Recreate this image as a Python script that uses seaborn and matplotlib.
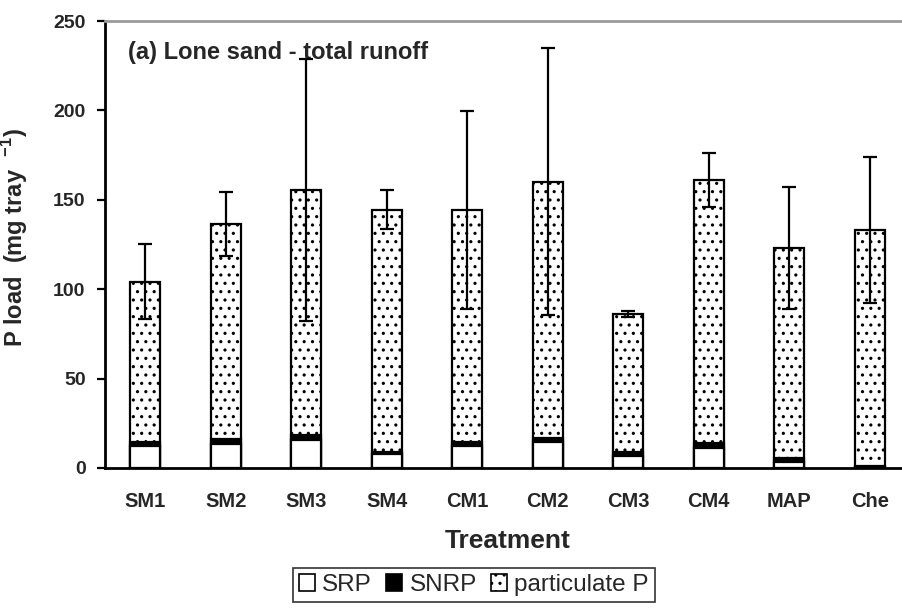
import numpy as np
import pandas as pd
import matplotlib
matplotlib.use("Agg")
import matplotlib.pyplot as plt
import seaborn as sns
from matplotlib.patches import Patch

# Phosphorus load per treatment (mg per tray), Lone sand, total runoff
treatments = ["SM1", "SM2", "SM3", "SM4", "CM1", "CM2", "CM3", "CM4", "MAP", "Che"]
srp = [12.5, 13.4, 15.7, 7.8, 12.5, 14.7, 6.7, 11.0, 3.4, 0.3]
snrp = [2.0, 3.0, 2.6, 1.3, 2.0, 2.3, 2.4, 2.8, 2.0, 0.8]
total_p = [104.2, 136.5, 155.5, 144.5, 144.5, 160.1, 86.1, 161.1, 123.2, 133.1]
total_err = [21.0, 17.8, 73.5, 11.0, 55.3, 74.6, 1.8, 15.3, 34.0, 41.0]

particulate = [t - a - b for t, a, b in zip(total_p, srp, snrp)]

df = pd.DataFrame({
    "Treatment": treatments,
    "SRP": srp,
    "SNRP": snrp,
    "particulate P": particulate,
})
df["srp_snrp"] = df["SRP"] + df["SNRP"]
df["total"] = df["srp_snrp"] + df["particulate P"]

sns.set_style("white")
plt.rcParams["font.family"] = ["Liberation Sans", "DejaVu Sans"]
plt.rcParams["hatch.linewidth"] = 1.1
plt.rcParams["hatch.color"] = "black"

fig = plt.figure(figsize=(9.03, 6.12), dpi=100)
ax = fig.add_axes([105 / 903, 1 - 468 / 612, 805 / 903, 447 / 612])

bar_w = 0.37
edge_lw = 1.6

# stacked bars drawn as overlapping cumulative heights
sns.barplot(data=df, x="Treatment", y="total", color="white", edgecolor="black",
            linewidth=edge_lw, hatch="..", width=bar_w, errorbar=None, ax=ax, zorder=2)
sns.barplot(data=df, x="Treatment", y="srp_snrp", color="black", edgecolor="black",
            linewidth=edge_lw, width=bar_w, errorbar=None, ax=ax, zorder=3)
sns.barplot(data=df, x="Treatment", y="SRP", color="white", edgecolor="black",
            linewidth=edge_lw, width=bar_w, errorbar=None, ax=ax, zorder=4)

ax.errorbar(np.arange(len(treatments)), df["total"], yerr=total_err, fmt="none",
            ecolor="black", elinewidth=1.6, capsize=5, capthick=1.6, zorder=5)

ax.set_ylim(0, 250)
ax.set_xlim(-0.5, len(treatments) - 0.5)
ax.set_yticks([0, 50, 100, 150, 200, 250])

# category labels centred, tick marks on category boundaries
ax.set_xticks(np.arange(len(treatments)))
ax.set_xticklabels(treatments)
ax.set_xticks(np.arange(-0.5, len(treatments)), minor=True)
ax.tick_params(axis="x", which="major", length=0, pad=17, labelsize=14.5)
ax.tick_params(axis="x", which="minor", length=6, width=1.6, direction="out", color="black")
ax.tick_params(axis="y", length=6, width=1.6, direction="out", color="black",
               pad=8, labelsize=14, left=True)
for lab in ax.get_xticklabels() + ax.get_yticklabels():
    lab.set_fontweight("bold")

for side in ["left", "bottom"]:
    ax.spines[side].set_color("black")
    ax.spines[side].set_linewidth(2)
for side in ["top", "right"]:
    ax.spines[side].set_color("#9a9a9a")
    ax.spines[side].set_linewidth(2)

ax.set_xlabel("Treatment", fontsize=19, fontweight="bold")
ax.xaxis.set_label_coords(0.5, -(529 - 468) / 447)
ax.set_ylabel("P load  (mg tray  $^{\\mathregular{-1}}$)", fontsize=17, fontweight="bold")
ax.yaxis.set_label_coords(-(105 - 30) / 805, (468 - 238) / 447)

ax.text(23 / 805, (468 - 52) / 447, "(a) Lone sand - total runoff", transform=ax.transAxes,
        fontsize=17, fontweight="bold", ha="left", va="center")

handles = [
    Patch(facecolor="white", edgecolor="black", linewidth=1.2, label="SRP"),
    Patch(facecolor="black", edgecolor="black", linewidth=1.2, label="SNRP"),
    Patch(facecolor="white", edgecolor="black", linewidth=1.2, hatch="..", label="particulate P"),
]
leg = fig.legend(handles=handles, loc="center", bbox_to_anchor=(474 / 903, 1 - 585 / 612),
                 ncol=3, frameon=True, fancybox=False, edgecolor="black", fontsize=17.5,
                 handlelength=0.65, handleheight=0.65, handletextpad=0.3, columnspacing=0.6,
                 borderpad=0.25, borderaxespad=0)
leg.get_frame().set_linewidth(1.2)

fig.savefig("out.png", dpi=100)
